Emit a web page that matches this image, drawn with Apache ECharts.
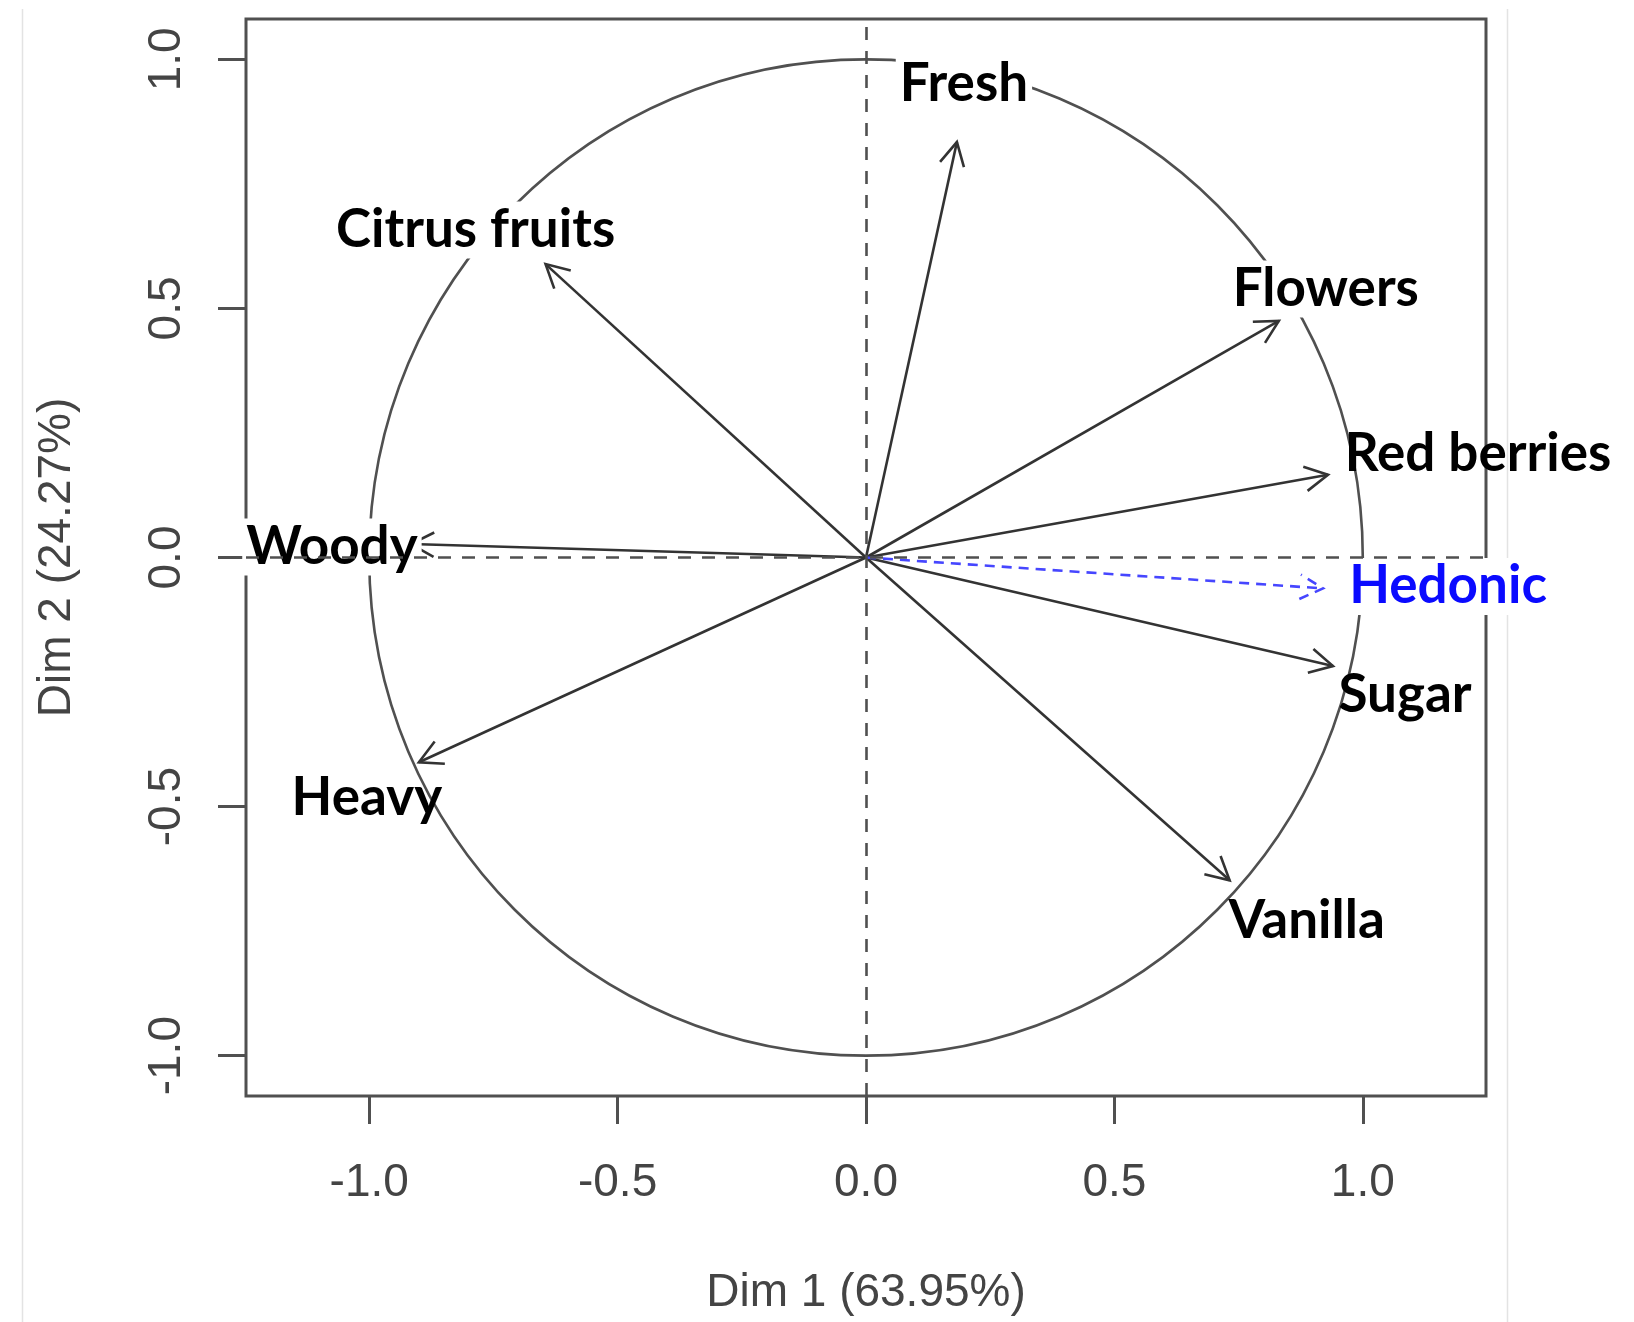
<!DOCTYPE html>
<html>
<head>
<meta charset="utf-8">
<title>Variables factor map (PCA)</title>
<script src="https://cdn.jsdelivr.net/npm/echarts@6/dist/echarts.min.js"></script>
<style>
  html, body { margin: 0; padding: 0; background: #ffffff; }
  #chart { width: 1634px; height: 1322px; }
</style>
</head>
<body>
<div id="chart"></div>
<script>
// Active variables: coordinates on the first two dimensions
const variables = ['Fresh', 'Citrus fruits', 'Flowers', 'Red berries', 'Sugar', 'Vanilla', 'Heavy', 'Woody'];
const dim1 = [0.183, -0.645, 0.831, 0.930, 0.940, 0.732, -0.900, -0.916];
const dim2 = [0.834, 0.589, 0.475, 0.166, -0.218, -0.648, -0.411, 0.027];

// Supplementary variable (projected, drawn dashed in blue)
const suppVariables = ['Hedonic'];
const suppDim1 = [0.920];
const suppDim2 = [-0.062];

// Axis ticks and titles
const tickValues = [-1, -0.5, 0, 0.5, 1];
const xTitle = 'Dim 1 (63.95%)';
const yTitle = 'Dim 2 (24.27%)';

// Label placement relative to each arrow tip (pixels) and whether the label masks what lies behind it
const labelStyle = {
  'Fresh':         { dx: 7,   dy: -58, mask: true },
  'Citrus fruits': { dx: -70, dy: -34, mask: true },
  'Flowers':       { dx: 47,  dy: -32, mask: true },
  'Red berries':   { dx: 150, dy: -21, mask: false },
  'Sugar':         { dx: 72,  dy: 29,  mask: false },
  'Vanilla':       { dx: 77,  dy: 41,  mask: false },
  'Heavy':         { dx: -52, dy: 36,  mask: false },
  'Woody':         { dx: -79, dy: 3,   mask: true },
  'Hedonic':       { dx: 125, dy: -2,  mask: true }
};

const axisGrey = '#505050';
const textGrey = '#444444';
const labelFont = 'bold 53px Lato, "Open Sans", "DejaVu Sans", sans-serif';

function arrowRenderer(color, labelColor, dash, lineWidth) {
  return function (params, api) {
    const o = api.coord([0, 0]);
    const p = api.coord([api.value(0), api.value(1)]);
    const name = api.value(2);
    const ang = Math.atan2(p[1] - o[1], p[0] - o[0]);
    const L = 26, A = 28 * Math.PI / 180;
    const b1 = [p[0] - L * Math.cos(ang - A), p[1] - L * Math.sin(ang - A)];
    const b2 = [p[0] - L * Math.cos(ang + A), p[1] - L * Math.sin(ang + A)];
    const ls = labelStyle[name] || { dx: 0, dy: 0, mask: false };
    const textStyle = {
      text: name,
      font: labelFont,
      fill: labelColor,
      align: 'center',
      verticalAlign: 'middle'
    };
    if (ls.mask) {
      textStyle.backgroundColor = '#ffffff';
      textStyle.padding = [2, 4];
    }
    return {
      type: 'group',
      children: [
        { type: 'line', shape: { x1: o[0], y1: o[1], x2: p[0], y2: p[1] },
          style: { stroke: color, lineWidth: lineWidth, lineDash: dash } },
        { type: 'polyline', shape: { points: [b1, p, b2] },
          style: { stroke: color, fill: null, lineWidth: lineWidth, lineDash: dash } },
        { type: 'text', x: p[0] + ls.dx, y: p[1] + ls.dy, z2: 10, style: textStyle }
      ]
    };
  };
}

const activeData = variables.map((n, i) => [dim1[i], dim2[i], n]);
const suppData = suppVariables.map((n, i) => [suppDim1[i], suppDim2[i], n]);

const chart = echarts.init(document.getElementById('chart'), null, { renderer: 'canvas' });

const tickFont = '"Liberation Sans", Arial, sans-serif';

chart.setOption({
  backgroundColor: '#ffffff',
  animation: false,
  grid: {
    left: 246, top: 19, right: 148, bottom: 226,
    show: true, borderColor: axisGrey, borderWidth: 3,
    backgroundColor: 'transparent',
    containLabel: false, outerBoundsMode: 'none'
  },
  xAxis: {
    type: 'value', min: -1.248, max: 1.248,
    axisLine: { show: false, onZero: false },
    splitLine: { show: false },
    axisTick: { show: true, inside: false, length: 28, customValues: tickValues,
                lineStyle: { color: axisGrey, width: 3 } },
    axisLabel: { customValues: tickValues, margin: 64, color: textGrey,
                 fontSize: 46, fontFamily: tickFont,
                 formatter: v => v.toFixed(1) },
    name: xTitle, nameLocation: 'middle', nameGap: 174,
    nameTextStyle: { color: textGrey, fontSize: 46, fontFamily: tickFont }
  },
  yAxis: {
    type: 'value', min: -1.081, max: 1.081,
    axisLine: { show: false, onZero: false },
    splitLine: { show: false },
    axisTick: { show: true, inside: false, length: 28, customValues: tickValues,
                lineStyle: { color: axisGrey, width: 3 } },
    axisLabel: { customValues: tickValues, margin: 56, rotate: 90, color: textGrey,
                 fontSize: 46, fontFamily: tickFont,
                 formatter: v => v.toFixed(1) },
    name: yTitle, nameLocation: 'middle', nameGap: 166,
    nameTextStyle: { color: textGrey, fontSize: 46, fontFamily: tickFont }
  },
  graphic: [
    { type: 'line', shape: { x1: 22.5, y1: 9, x2: 22.5, y2: 1322 }, style: { stroke: '#e3e3e3', lineWidth: 1.5 }, silent: true },
    { type: 'line', shape: { x1: 1507.5, y1: 9, x2: 1507.5, y2: 1322 }, style: { stroke: '#e3e3e3', lineWidth: 1.5 }, silent: true }
  ],
  series: [
    {
      // correlation circle and the dashed reference lines through the origin
      type: 'custom',
      z: 1,
      silent: true,
      data: [[0, 0]],
      renderItem: function (params, api) {
        const c = api.coord([0, 0]);
        const s = api.size([1, 1]);
        return {
          type: 'ellipse',
          shape: { cx: c[0], cy: c[1], rx: s[0], ry: s[1] },
          style: { stroke: axisGrey, fill: null, lineWidth: 2.6 }
        };
      },
      markLine: {
        silent: true,
        symbol: 'none',
        label: { show: false },
        lineStyle: { color: axisGrey, width: 2.6, type: [13, 11] },
        data: [{ xAxis: 0 }, { yAxis: 0 }]
      }
    },
    {
      type: 'custom',
      z: 3,
      silent: true,
      data: activeData,
      renderItem: arrowRenderer('#333333', '#000000', null, 2.6)
    },
    {
      type: 'custom',
      z: 4,
      silent: true,
      data: suppData,
      renderItem: arrowRenderer('#4646ff', '#0a0aff', [10, 7], 2.6)
    }
  ]
});
</script>
</body>
</html>
